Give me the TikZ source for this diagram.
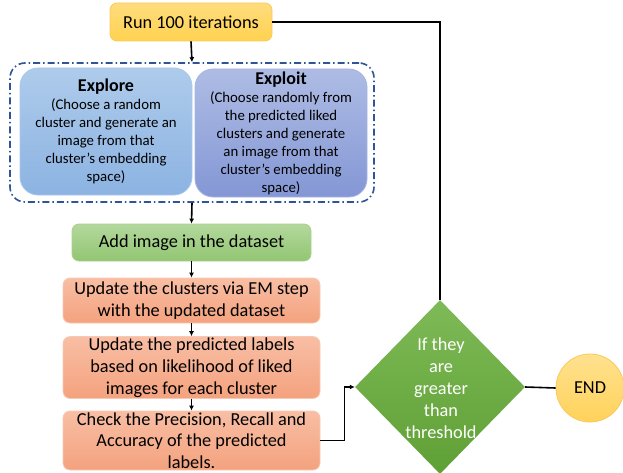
\documentclass[tikz,border=0pt]{standalone}
\usepackage{fontspec}
\setmainfont{Carlito}
\usetikzlibrary{shapes.geometric,arrows.meta,calc}

\definecolor{runtop}{HTML}{FFDC7E}
\definecolor{runbot}{HTML}{FFD24F}
\definecolor{runline}{HTML}{F9C95C}
\definecolor{exptop}{HTML}{AECBEB}
\definecolor{expbot}{HTML}{8CB3E2}
\definecolor{expline}{HTML}{A9C8EC}
\definecolor{exitop}{HTML}{AEBCE4}
\definecolor{exibot}{HTML}{8497D5}
\definecolor{exiline}{HTML}{A6B6E2}
\definecolor{grntop}{HTML}{B3D89D}
\definecolor{grnbot}{HTML}{92C672}
\definecolor{grnline}{HTML}{A9D18E}
\definecolor{saltop}{HTML}{F8BEA4}
\definecolor{salbot}{HTML}{F4A27E}
\definecolor{salline}{HTML}{F8C9B2}
\definecolor{dectop}{HTML}{7EBA57}
\definecolor{decbot}{HTML}{5FA035}
\definecolor{endtop}{HTML}{FFE18F}
\definecolor{endbot}{HTML}{FFD25A}
\definecolor{groupline}{HTML}{2F5597}

\tikzset{
  box/.style={rectangle, rounded corners=7pt, draw, line width=0.8pt,
    align=center, inner sep=1pt, text=black},
  runbox/.style={box, top color=runtop, bottom color=runbot, draw=runline,
    font=\fontsize{18.3}{22}\selectfont},
  explorebox/.style={box, rounded corners=18pt, top color=exptop, bottom color=expbot,
    draw=expline, font=\fontsize{14.8}{18}\selectfont},
  exploitbox/.style={box, rounded corners=18pt, top color=exitop, bottom color=exibot,
    draw=exiline, font=\fontsize{14.8}{18}\selectfont},
  greenbox/.style={box, top color=grntop, bottom color=grnbot, draw=grnline,
    font=\fontsize{18.3}{22}\selectfont},
  salmonbox/.style={box, top color=saltop, bottom color=salbot, draw=salline,
    font=\fontsize{18.3}{22}\selectfont},
  groupbox/.style={rectangle, rounded corners=15pt, draw=groupline, line width=1.6pt,
    dash pattern=on 7pt off 3pt on 1.5pt off 3pt},
  flow/.style={line width=1.6pt, draw=black},
  flowarrow/.style={flow, -{Latex[length=5pt,width=5pt]}},
}

\begin{document}
\begin{tikzpicture}[x=1pt,y=-1pt]
  \useasboundingbox (0,0) rectangle (623,473);

  % loop start
  \node[runbox, minimum width=162pt, minimum height=38pt] (run) at (191,22) {Run 100 iterations};

  % explore / exploit group
  \node[groupbox, minimum width=364pt, minimum height=139pt] (group) at (192,132.5) {};
  \node[explorebox, minimum width=172pt, minimum height=127pt] (explore) at (106,131.5)
    {\textbf{\fontsize{18}{20}\selectfont Explore}\\(Choose a random\\cluster and generate an\\image from that\\cluster’s embedding\\space)};
  \node[exploitbox, minimum width=172pt, minimum height=128pt] (exploit) at (281,133)
    {\textbf{\fontsize{18}{18}\selectfont Exploit}\\(Choose randomly from\\the predicted liked\\clusters and generate\\an image from that\\cluster’s embedding\\space)};

  % processing steps
  \node[greenbox, minimum width=239pt, minimum height=37pt] (add) at (191.5,242.5) {Add image in the dataset};
  \node[salmonbox, minimum width=257pt, minimum height=45pt] (em) at (191.5,300.5)
    {Update the clusters via EM step\\with the updated dataset};
  \node[salmonbox, minimum width=257pt, minimum height=59pt] (labels) at (191.5,367.5)
    {Update the predicted labels\\based on likelihood of liked\\images for each cluster};
  \node[salmonbox, minimum width=257pt, minimum height=59pt] (check) at (191.5,440.5) {};
  \node[align=center, font=\fontsize{18.3}{21.5}\selectfont] (checktext) at (191.5,440.5)
    {Check the Precision, Recall and\\Accuracy of the predicted\\labels.};

  % decision and end
  \node[diamond, minimum width=170pt, minimum height=174pt, inner sep=0pt,
    top color=dectop, bottom color=decbot] (dec) at (440,387) {};
  \node[align=center, text=white, font=\fontsize{18.3}{22}\selectfont] (dectext) at (441,388)
    {If they\\are\\greater\\than\\threshold};
  \node[circle, minimum size=68pt, inner sep=0pt, draw=runline, line width=0.8pt,
    top color=endtop, bottom color=endbot, font=\fontsize{18.3}{22}\selectfont] (end) at (590,388) {END};

  % connectors
  \draw[flowarrow] (run.south) -- (group.north);
  \draw[flowarrow] (group.south) -- (add.north);
  \draw[flowarrow] (add.south) -- (em.north);
  \draw[flowarrow] (em.south) -- (labels.north);
  \draw[flowarrow] (labels.south) -- (check.north);
  \draw[flowarrow] (check.east) -- ++(24,0) |- (dec.west);
  \draw[flow] (dec.north) |- (run.east);
  \draw[flow] (dec.east) -- (end.west);
\end{tikzpicture}
\end{document}
